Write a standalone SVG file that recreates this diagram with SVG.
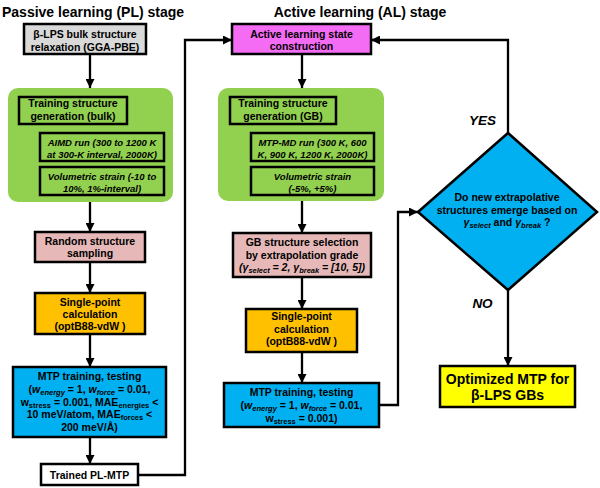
<svg xmlns="http://www.w3.org/2000/svg" width="600" height="488" viewBox="0 0 600 488">
<defs>
<marker id="ah" viewBox="0 0 10 10" refX="10" refY="5" markerWidth="9" markerHeight="9" markerUnits="userSpaceOnUse" orient="auto">
<path d="M0,0 L10,5 L0,10 z" fill="#000"/>
</marker>
<style>
text{font-family:"Liberation Sans",Arial,sans-serif;font-weight:bold;fill:#000}
.t{font-size:10.5px;text-anchor:middle}
.i{font-size:9.5px;text-anchor:middle;font-style:italic}
.title{font-size:14px}
.big{font-size:14px;text-anchor:middle}
.lbl{font-size:13.5px;font-style:italic;text-anchor:middle}
.sub{font-size:7.5px}
.it{font-style:italic}
.box{stroke:#000;stroke-width:2.5}
.grp{fill:#92d050}
.c{fill:none;stroke:#000;stroke-width:2.3}
</style>
</defs>
<rect width="600" height="488" fill="#fff"/>
<text class="title" x="2" y="17">Passive learning (PL) stage</text>
<text class="title" x="360" y="17" text-anchor="middle">Active learning (AL) stage</text>

<g id="connectors">
<path class="c" d="M90 54 V88" marker-end="url(#ah)"/>
<path class="c" d="M24 124 V181 H40 M24 145 H40"/>
<path class="c" d="M90 202 V232" marker-end="url(#ah)"/>
<path class="c" d="M90 262 V293" marker-end="url(#ah)"/>
<path class="c" d="M90 334 V367" marker-end="url(#ah)"/>
<path class="c" d="M90 437 V464" marker-end="url(#ah)"/>
<path class="c" d="M138 475 H185 V40 H232" marker-end="url(#ah)"/>
<path class="c" d="M302 54 V88" marker-end="url(#ah)"/>
<path class="c" d="M236 124 V181 H251 M236 145 H251"/>
<path class="c" d="M302 201 V233" marker-end="url(#ah)"/>
<path class="c" d="M302 277 V309" marker-end="url(#ah)"/>
<path class="c" d="M302 352 V383" marker-end="url(#ah)"/>
<path class="c" d="M379 405 H398 V212 H418" marker-end="url(#ah)"/>
<path class="c" d="M508 133 V40 H371" marker-end="url(#ah)"/>
<path class="c" d="M508 290 V366" marker-end="url(#ah)"/>
<text class="lbl" x="482.5" y="125">YES</text>
<text class="lbl" x="482.5" y="308">NO</text>
</g>

<g id="pl-relax">
<rect class="box" x="24" y="24" width="122" height="30" fill="#d9d9d9"/>
<text class="t" x="85" y="38">β-LPS bulk structure</text>
<text class="t" x="85" y="50.5">relaxation (GGA-PBE)</text>
</g>
<g id="pl-gen-group">
<rect class="grp" x="8" y="88" width="165" height="114" rx="10"/>
</g>
<g id="pl-gen">
<rect class="box" x="19" y="97" width="108" height="27" fill="#92d050"/>
<text class="t" x="73" y="107">Training structure</text>
<text class="t" x="73" y="119.5">generation (bulk)</text>
</g>
<g id="pl-aimd">
<rect class="box" x="40" y="133" width="124" height="28" fill="#92d050"/>
<text class="i" x="102" y="146">AIMD run (300 to 1200 K</text>
<text class="i" x="102" y="157.5">at 300-K interval, 2000K)</text>
</g>
<g id="pl-vol">
<rect class="box" x="40" y="167" width="124" height="28" fill="#92d050"/>
<text class="i" x="102" y="180">Volumetric strain (-10 to</text>
<text class="i" x="102" y="191.5">10%, 1%-interval)</text>
</g>
<g id="pl-random">
<rect class="box" x="35" y="232" width="110" height="30" fill="#e6b8b7"/>
<text class="t" x="90" y="245">Random structure</text>
<text class="t" x="90" y="257">sampling</text>
</g>
<g id="pl-sp">
<rect class="box" x="35" y="293" width="110" height="41" fill="#ffc000"/>
<text class="t" x="90" y="306">Single-point</text>
<text class="t" x="90" y="318">calculation</text>
<text class="t" x="90" y="330">(optB88-vdW )</text>
</g>
<g id="pl-mtp">
<rect class="box" x="13" y="367" width="153" height="70" fill="#00b0f0"/>
<text class="t" x="89.5" y="380">MTP training, testing</text>
<text class="t" x="89.5" y="393">(<tspan class="it">w</tspan><tspan class="sub it" dy="2">energy</tspan><tspan dy="-2"> = 1, </tspan><tspan class="it">w</tspan><tspan class="sub it" dy="2">force</tspan><tspan dy="-2"> = 0.01,</tspan></text>
<text class="t" x="89.5" y="405.5">w<tspan class="sub" dy="2">stress</tspan><tspan dy="-2"> = 0.001, MAE</tspan><tspan class="sub" dy="2">energies</tspan><tspan dy="-2"> &lt;</tspan></text>
<text class="t" x="89.5" y="418">10 meV/atom, MAE<tspan class="sub" dy="2">forces</tspan><tspan dy="-2"> &lt;</tspan></text>
<text class="t" x="89.5" y="430.5">200 meV/Å)</text>
</g>
<g id="pl-trained">
<rect class="box" x="41" y="464" width="97" height="21" fill="#fff"/>
<text class="t" x="89.5" y="479">Trained PL-MTP</text>
</g>

<g id="al-state">
<rect class="box" x="232" y="24" width="139" height="30" fill="#f36cf3"/>
<text class="t" x="301.5" y="37.5">Active learning state</text>
<text class="t" x="301.5" y="50">construction</text>
</g>
<g id="al-gen-group">
<rect class="grp" x="218" y="88" width="166" height="113" rx="10"/>
</g>
<g id="al-gen">
<rect class="box" x="230" y="97" width="106" height="27" fill="#92d050"/>
<text class="t" x="283" y="107">Training structure</text>
<text class="t" x="283" y="119.5">generation (GB)</text>
</g>
<g id="al-md">
<rect class="box" x="251" y="133" width="123" height="28" fill="#92d050"/>
<text class="i" x="312.5" y="146">MTP-MD run (300 K, 600</text>
<text class="i" x="312.5" y="157.5">K, 900 K, 1200 K, 2000K)</text>
</g>
<g id="al-vol">
<rect class="box" x="251" y="167" width="123" height="28" fill="#92d050"/>
<text class="i" x="312.5" y="180">Volumetric strain</text>
<text class="i" x="312.5" y="191.5">(-5%, +5%)</text>
</g>
<g id="al-select">
<rect class="box" x="233" y="233" width="138" height="44" fill="#e6b8b7"/>
<text class="t" x="302" y="246">GB structure selection</text>
<text class="t" x="302" y="259">by extrapolation grade</text>
<text class="t it" x="302" y="271">(γ<tspan class="sub" dy="2">select</tspan><tspan dy="-2"> = 2, γ</tspan><tspan class="sub" dy="2">break</tspan><tspan dy="-2"> = [10, 5])</tspan></text>
</g>
<g id="al-sp">
<rect class="box" x="246" y="309" width="111" height="43" fill="#ffc000"/>
<text class="t" x="301.5" y="320">Single-point</text>
<text class="t" x="301.5" y="332.5">calculation</text>
<text class="t" x="301.5" y="345">(optB88-vdW )</text>
</g>
<g id="al-mtp">
<rect class="box" x="224" y="383" width="155" height="44" fill="#00b0f0"/>
<text class="t" x="301.5" y="396">MTP training, testing</text>
<text class="t" x="301.5" y="409">(<tspan class="it">w</tspan><tspan class="sub it" dy="2">energy</tspan><tspan dy="-2"> = 1, </tspan><tspan class="it">w</tspan><tspan class="sub it" dy="2">force</tspan><tspan dy="-2"> = 0.01,</tspan></text>
<text class="t" x="301.5" y="421.5">w<tspan class="sub" dy="2">stress</tspan><tspan dy="-2"> = 0.001)</tspan></text>
</g>
<g id="decision">
<polygon points="418,212 508,133 597,212 508,290" fill="#00b0f0" stroke="#000" stroke-width="2.5" stroke-linejoin="miter"/>
<text class="t" x="507" y="201">Do new extrapolative</text>
<text class="t" x="507" y="214">structures emerge based on</text>
<text class="t" x="507" y="226"><tspan class="it">γ</tspan><tspan class="sub it" dy="2">select</tspan><tspan dy="-2"> and </tspan><tspan class="it">γ</tspan><tspan class="sub it" dy="2">break</tspan><tspan dy="-2"> ?</tspan></text>
</g>
<g id="optimized">
<rect class="box" x="440" y="366" width="135" height="41" fill="#ffff00"/>
<text class="big" x="507.5" y="384">Optimized MTP for</text>
<text class="big" x="507.5" y="400">β-LPS GBs</text>
</g>
</svg>
